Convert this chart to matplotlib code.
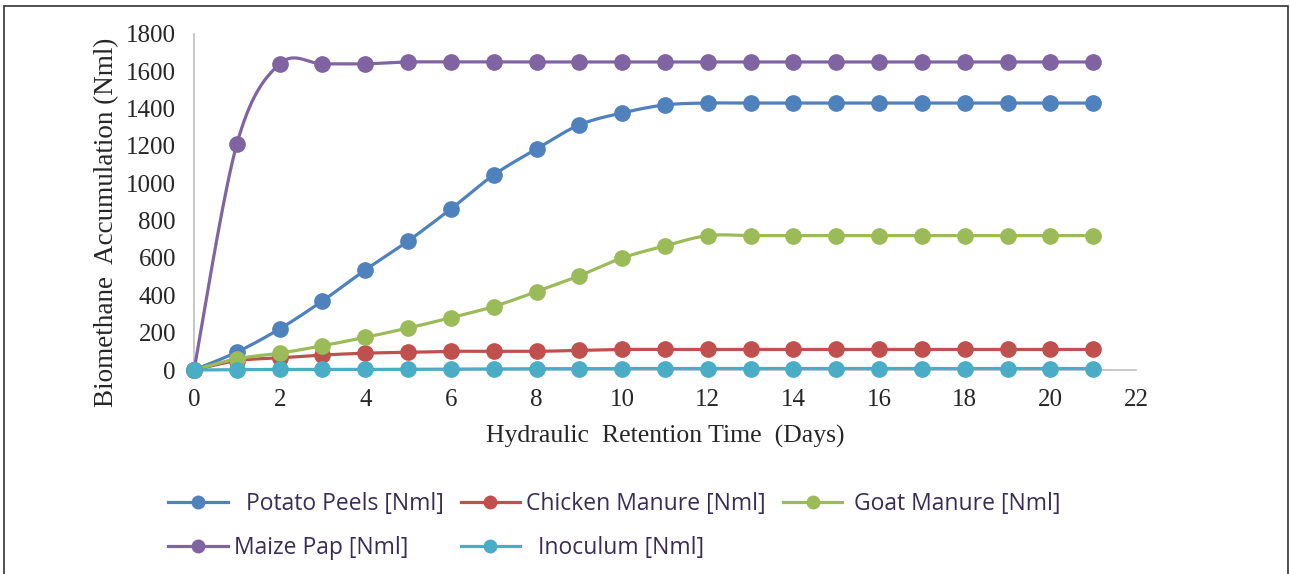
import numpy as np
import matplotlib
matplotlib.use("Agg")
import matplotlib.pyplot as plt
from matplotlib.patches import Rectangle
from matplotlib.lines import Line2D

# data (Nml, cumulative)
days = list(range(22))
potato = [0, 96, 220, 370, 536, 691, 863, 1045, 1184, 1313, 1377, 1420,
          1430, 1430, 1430, 1430, 1430, 1430, 1430, 1430, 1430, 1430]
chicken = [0, 50, 65, 80, 90, 95, 100, 100, 100, 105, 110, 110,
           110, 110, 110, 110, 110, 110, 110, 110, 110, 110]
goat = [0, 60, 90, 130, 175, 225, 280, 340, 420, 505, 600, 665,
        720, 720, 720, 720, 720, 720, 720, 720, 720, 720]
maize = [0, 1210, 1640, 1640, 1640, 1650, 1650, 1650, 1650, 1650, 1650, 1650,
         1650, 1650, 1650, 1650, 1650, 1650, 1650, 1650, 1650, 1650]
inoculum = [0, 2, 3, 3, 3, 4, 5, 6, 7, 7, 8, 8,
            8, 8, 8, 8, 8, 8, 8, 8, 8, 8]

labels = ["  Potato Peels [Nml]", "Chicken Manure [Nml]", " Goat Manure [Nml]",
          "Maize Pap [Nml]", "  Inoculum [Nml]"]
colors = ["#4f81bd", "#c0504d", "#9bbb59", "#8064a2", "#4bacc6"]
series = [potato, chicken, goat, maize, inoculum]


def smooth(x, y, n=20):
    # excel-like smoothed line (catmull-rom through the points)
    x = np.asarray(x, float)
    y = np.asarray(y, float)
    xs, ys = [], []
    for i in range(len(x) - 1):
        p0 = (x[i - 1], y[i - 1]) if i > 0 else (x[i], y[i])
        p1 = (x[i], y[i])
        p2 = (x[i + 1], y[i + 1])
        p3 = (x[i + 2], y[i + 2]) if i + 2 < len(x) else (x[i + 1], y[i + 1])
        c1 = (p1[0] + (p2[0] - p0[0]) / 6, p1[1] + (p2[1] - p0[1]) / 6)
        c2 = (p2[0] - (p3[0] - p1[0]) / 6, p2[1] - (p3[1] - p1[1]) / 6)
        t = np.linspace(0, 1, n, endpoint=False)
        b0 = (1 - t) ** 3
        b1 = 3 * (1 - t) ** 2 * t
        b2 = 3 * (1 - t) * t ** 2
        b3 = t ** 3
        xs.extend(b0 * p1[0] + b1 * c1[0] + b2 * c2[0] + b3 * p2[0])
        ys.extend(b0 * p1[1] + b1 * c1[1] + b2 * c2[1] + b3 * p2[1])
    xs.append(x[-1])
    ys.append(y[-1])
    return xs, ys


serif = "Liberation Serif"
fig = plt.figure(figsize=(12.9, 5.74), dpi=100)
ax = fig.add_axes([0.1504, 0.3554, 0.7302, 0.5854])

for vals, col in zip(series, colors):
    sx, sy = smooth(days, vals)
    ax.plot(sx, sy, color=col, lw=2.3, clip_on=False, zorder=3)
    ax.plot(days, vals, 'o', color=col, ms=11, clip_on=False, zorder=4)

ax.set_xlim(0, 22)
ax.set_ylim(0, 1800)
ax.set_xticks(range(0, 23, 2))
ax.set_yticks(range(0, 1801, 200))
for s in ["top", "right"]:
    ax.spines[s].set_visible(False)
for s in ["left", "bottom"]:
    ax.spines[s].set_color("#bfbfbf")
    ax.spines[s].set_linewidth(1.2)
ax.tick_params(length=0, labelsize=18, labelcolor="#262626")
ax.tick_params(axis="x", pad=14)
ax.tick_params(axis="y", pad=13)
for lab in ax.get_xticklabels() + ax.get_yticklabels():
    lab.set_family(serif)
ax.set_xlabel("Hydraulic  Retention Time  (Days)", family=serif, fontsize=18.5,
              color="#262626", labelpad=10)
ax.set_ylabel("Biomethane  Accumulation (Nml)", family=serif, fontsize=19.5,
              color="#262626")
ax.yaxis.set_label_coords(-0.08, 0.44)

# legend, excel style (row order)
handles = [Line2D([], [], color=c, lw=2.3, marker='o', ms=9) for c in colors]
order = [0, 3, 1, 4, 2]
leg = fig.legend([handles[i] for i in order], [labels[i] for i in order],
                 ncol=3, loc="upper left", bbox_to_anchor=(0.118, 0.17),
                 frameon=False, prop={"family": "Open Sans", "size": 16.5},
                 handlelength=2.6, handletextpad=0.25, columnspacing=0.75,
                 labelspacing=0.85, borderpad=0.2)
for t in leg.get_texts():
    t.set_color("#3a2d55")

fig.patches.append(Rectangle((4 / 1290, -0.02), 1284 / 1290, 1 - 6 / 574 + 0.02,
                             transform=fig.transFigure, fill=False,
                             edgecolor="#333333", lw=1.2))

fig.savefig("out.png", dpi=100)
